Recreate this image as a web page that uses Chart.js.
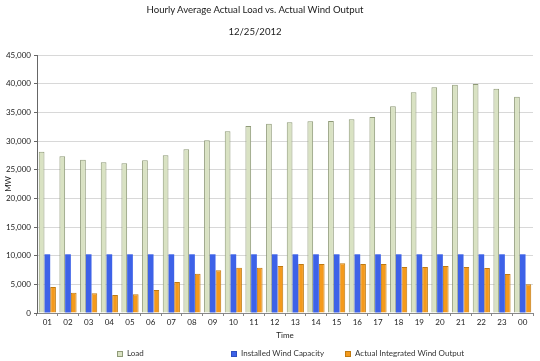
<!DOCTYPE html>
<html>
<head>
<meta charset="utf-8">
<script src="https://cdn.jsdelivr.net/npm/chart.js@4"></script>
<style>
  body { margin: 0; background: #fff; }
  #wrap { position: relative; width: 540px; height: 361px; font-family: Lato, "Open Sans", sans-serif; }
  canvas { position: absolute; left: 0; top: 0; }
  .ttl { position: absolute; left: 0; width: 510px; text-align: center; color: #1a1a1a; font-size: 9.6px; }
  .leg { position: absolute; top: 348px; font-size: 8px; color: #333; white-space: nowrap; }
  .leg i { display: inline-block; width: 6px; height: 6px; margin-right: 4px; vertical-align: -1px; border: 1px solid; box-sizing: border-box; }
</style>
</head>
<body>
<div id="wrap">
  <canvas id="c" width="540" height="361"></canvas>
  <div class="ttl" style="top:4px">Hourly Average Actual Load vs. Actual Wind Output</div>
  <div class="ttl" style="top:26px">12/25/2012</div>
  <div class="leg" style="left:117px"><i style="background:#d9e2c3;border-color:#8f9a78"></i>Load</div>
  <div class="leg" style="left:231px"><i style="background:#3d62e8;border-color:#2f4fc0"></i>Installed Wind Capacity</div>
  <div class="leg" style="left:345px"><i style="background:#f49a1c;border-color:#c07a10"></i>Actual Integrated Wind Output</div>
</div>
<script>
var hours = ["01","02","03","04","05","06","07","08","09","10","11","12",
             "13","14","15","16","17","18","19","20","21","22","23","00"];
var load = [28130,27330,26740,26280,26110,26630,27500,28550,30120,31690,32600,33000,
            33260,33430,33490,33780,34190,36050,38490,39360,39830,39940,39130,37730];
var capacity = [10240,10240,10240,10240,10240,10240,10240,10240,10240,10240,10240,10240,
                10240,10240,10240,10240,10240,10240,10240,10240,10240,10240,10240,10240];
var windOutput = [4530,3540,3430,3140,3260,4010,5410,6860,7440,7900,7900,8180,
                  8550,8550,8660,8550,8550,8020,8020,8200,8020,7850,6800,5000];

new Chart(document.getElementById("c"), {
  type: 'bar',
  data: {
    labels: hours,
    datasets: [{
        label: "Load",
        data: load,
        backgroundColor: "#d9e2c3",
        borderColor: "#8f9a78",
        borderWidth: 1
      }, {
        label: "Installed Wind Capacity",
        data: capacity,
        backgroundColor: "#3d62e8",
        borderColor: "#3d62e8",
        borderWidth: 0
      }, {
        label: "Actual Integrated Wind Output",
        data: windOutput,
        backgroundColor: "#f49a1c",
        borderColor: "#c07a10",
        borderWidth: 1
      }
    ]
  },
  options: {
    responsive: false,
    animation: false,
    layout: { padding: { top: 55, right: 7, bottom: 21, left: 4 } },
    datasets: { bar: { categoryPercentage: 0.83, barPercentage: 1.0 } },
    plugins: {
      legend: { display: false },
      title: { display: false },
      tooltip: { enabled: false }
    },
    scales: {
      x: {
        offset: true,
        grid: { display: true, drawOnChartArea: false, tickLength: 3, color: "#888" },
        border: { color: "#888" },
        ticks: { color: "#222", font: { family: "Lato", size: 8 }, padding: 2, maxRotation: 0, autoSkip: false },
        title: { display: true, text: "Time", color: "#222", font: { family: "Lato", size: 8 }, padding: { top: 1, bottom: 0 } },
        afterFit: function(s) { s.height = 27; }
      },
      y: {
        min: 0,
        max: 45000,
        ticks: {
          stepSize: 5000,
          color: "#222",
          font: { family: "Lato", size: 8 },
          padding: 3,
          callback: function(v) { return v.toLocaleString("en-US"); }
        },
        grid: { color: "#d8d8d8", tickLength: 3, tickColor: "#666" },
        border: { color: "#666" },
        title: { display: true, text: "MW", color: "#222", font: { family: "Lato", size: 8 }, padding: 0 },
        afterFit: function(s) { s.width = 33; }
      }
    }
  }
});
</script>
</body>
</html>
